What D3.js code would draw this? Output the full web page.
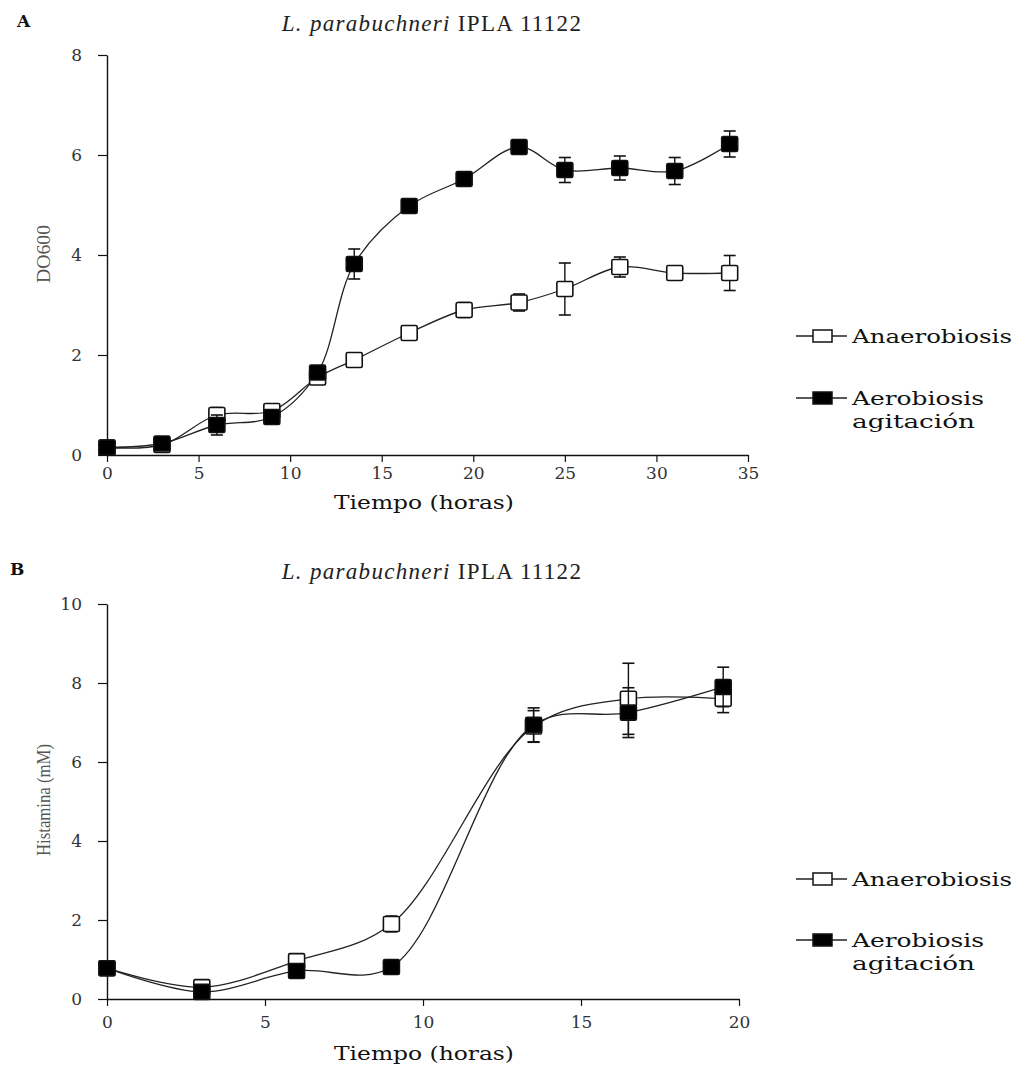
<!DOCTYPE html>
<html><head><meta charset="utf-8">
<script src="https://cdn.jsdelivr.net/npm/d3@7"></script>
<style>body{margin:0;background:#fff}svg{display:block}text{font-family:"Liberation Serif","Times New Roman",serif}</style>
</head><body>
<script>
// Panel A data: optical density
const timeA = [0, 3, 6, 9, 11.5, 13.5, 16.5, 19.5, 22.5, 25, 28, 31, 34];
const anaerA = [0.15, 0.2, 0.8, 0.88, 1.55, 1.9, 2.44, 2.9, 3.05, 3.32, 3.76, 3.64, 3.64];
const anaerAErr = [0.05, 0.05, 0.15, 0.08, 0.05, 0.1, 0.05, 0.15, 0.17, 0.52, 0.2, 0.08, 0.35];
const aerA = [0.15, 0.23, 0.6, 0.76, 1.65, 3.82, 4.98, 5.52, 6.16, 5.7, 5.74, 5.68, 6.22];
const aerAErr = [0.05, 0.05, 0.2, 0.06, 0.08, 0.3, 0.06, 0.05, 0.05, 0.25, 0.24, 0.27, 0.26];
const xTicksA = [0, 5, 10, 15, 20, 25, 30, 35];
const yTicksA = [0, 2, 4, 6, 8];
// Panel B data: histamine
const timeB = [0, 3, 6, 9, 13.5, 16.5, 19.5];
const anaerB = [0.78, 0.3, 0.96, 1.9, 6.9, 7.6, 7.6];
const anaerBErr = [0.05, 0.05, 0.05, 0.2, 0.4, 0.9, 0.35];
const aerB = [0.78, 0.18, 0.71, 0.81, 6.94, 7.25, 7.9];
const aerBErr = [0.05, 0.05, 0.05, 0.05, 0.43, 0.63, 0.5];
const xTicksB = [0, 5, 10, 15, 20];
const yTicksB = [0, 2, 4, 6, 8, 10];
const seriesNames = ["Anaerobiosis", ["Aerobiosis", "agitación"]];

const W = 1016, H = 1066;
const svg = d3.select("body").append("svg").attr("width", W).attr("height", H);
const wideSerif = '"DejaVu Serif","Liberation Serif",serif';

function panel(cfg) {
  const g = svg.append("g");
  const x = d3.scaleLinear().domain(cfg.xDom).range([107, cfg.xR]);
  const y = d3.scaleLinear().domain(cfg.yDom).range([cfg.yB, cfg.yT]);
  const xa = g.append("g").attr("transform", `translate(0,${cfg.yB})`)
    .call(d3.axisBottom(x).tickValues(cfg.xTicks).tickSize(7).tickSizeOuter(0).tickPadding(cfg.xPad));
  const ya = g.append("g").attr("transform", `translate(107,0)`)
    .call(d3.axisLeft(y).tickValues(cfg.yTicks).tickSize(9).tickSizeOuter(0).tickPadding(16));
  [xa, ya].forEach(a => {
    a.attr("font-family", null).attr("font-size", null);
    a.select(".domain").attr("stroke", "#111").attr("stroke-width", 1.4);
    a.selectAll(".tick line").attr("stroke", "#111").attr("stroke-width", 1.2);
    a.selectAll(".tick text").attr("fill", "#333").style("font-size", "17px").style("font-family", wideSerif);
  });
  const line = d3.line().curve(d3.curveCatmullRom.alpha(0.5)).x(d => x(d[0])).y(d => y(d[1]));
  const series = [
    {t: cfg.t, v: cfg.s1, e: cfg.e1, fill: "#fff"},
    {t: cfg.t, v: cfg.s2, e: cfg.e2, fill: "#000"}
  ];
  const order = [0, 1];
  order.forEach(i => {
    const s = series[i];
    g.append("path").datum(s.t.map((t, k) => [t, s.v[k]]))
      .attr("d", line).attr("fill", "none").attr("stroke", "#222").attr("stroke-width", 1.3);
  });
  order.forEach(i => {
    const s = series[i];
    const eb = g.append("g");
    s.t.forEach((t, k) => {
      const cx = x(t), top = y(s.v[k] + s.e[k]), bot = y(s.v[k] - s.e[k]);
      if (bot - top > 14) {
        eb.append("line").attr("x1", cx).attr("x2", cx).attr("y1", top).attr("y2", bot).attr("stroke", "#111").attr("stroke-width", 1.4);
        [top, bot].forEach(yy => eb.append("line").attr("x1", cx - 6).attr("x2", cx + 6).attr("y1", yy).attr("y2", yy).attr("stroke", "#111").attr("stroke-width", 1.6));
      }
    });
    g.append("g").selectAll("rect").data(s.t.map((t, k) => [t, s.v[k]])).join("rect")
      .attr("x", d => x(d[0]) - 8).attr("y", d => y(d[1]) - 7.5).attr("width", 16).attr("height", 15)
      .attr("rx", 1.5)
      .attr("fill", s.fill).attr("stroke", "#111").attr("stroke-width", 1.6);
  });
  // panel letter
  g.append("text").attr("x", cfg.letterX).attr("y", cfg.titleY - 4).text(cfg.letter)
    .style("font-weight", "bold").style("font-size", "17px").style("font-family", wideSerif).attr("fill", "#111");
  // title
  const tt = g.append("text").attr("x", 432).attr("y", cfg.titleY).attr("text-anchor", "middle")
    .style("font-size", "23px").style("letter-spacing", "1.3px").attr("fill", "#222");
  tt.append("tspan").style("font-style", "italic").text("L. parabuchneri");
  tt.append("tspan").text(" IPLA 11122");
  // x label
  g.append("text").attr("x", 424).attr("y", cfg.xLabY).attr("text-anchor", "middle")
    .style("font-size", "18px").style("font-family", wideSerif).attr("fill", "#111")
    .attr("textLength", 180).attr("lengthAdjust", "spacingAndGlyphs").text("Tiempo  (horas)");
  // y label
  g.append("text").attr("transform", `translate(${cfg.yLabX},${cfg.yLabY}) rotate(-90)`)
    .attr("text-anchor", "middle").style("font-size", "19px").attr("fill", "#555")
    .attr("textLength", cfg.yLabLen).attr("lengthAdjust", "spacingAndGlyphs").text(cfg.yLab);
  // legend
  const lg = g.append("g");
  const rows = [
    {y: cfg.legY[0], fill: "#fff", lines: [seriesNames[0]], lens: [160]},
    {y: cfg.legY[1], fill: "#000", lines: seriesNames[1], lens: [132, 123]}
  ];
  rows.forEach(r => {
    lg.append("line").attr("x1", 796).attr("x2", 847).attr("y1", r.y).attr("y2", r.y).attr("stroke", "#222").attr("stroke-width", 1.3);
    lg.append("rect").attr("x", 813).attr("y", r.y - 6).attr("width", 19).attr("height", 12)
      .attr("fill", r.fill).attr("stroke", "#111").attr("stroke-width", 1.5);
    r.lines.forEach((L, j) => lg.append("text").attr("x", 852).attr("y", r.y + 7 + j * 23)
      .style("font-size", "19px").style("font-family", wideSerif).attr("fill", "#111")
      .attr("textLength", r.lens[j]).attr("lengthAdjust", "spacingAndGlyphs").text(L));
  });
}

panel({xDom: [0, 35], xR: 748, yDom: [0, 8], yB: 455, yT: 55, xTicks: xTicksA, yTicks: yTicksA, xPad: 5,
  t: timeA, s1: anaerA, e1: anaerAErr, s2: aerA, e2: aerAErr, letter: "A", letterX: 17, titleY: 31,
  xLabY: 509, yLab: "DO600", yLabX: 50, yLabY: 254, yLabLen: 58, legY: [336, 398]});
panel({xDom: [0, 20], xR: 739, yDom: [0, 10], yB: 999, yT: 604, xTicks: xTicksB, yTicks: yTicksB, xPad: 10,
  t: timeB, s1: anaerB, e1: anaerBErr, s2: aerB, e2: aerBErr, letter: "B", letterX: 10, titleY: 579,
  xLabY: 1060, yLab: "Histamina  (mM)", yLabX: 50, yLabY: 800, yLabLen: 112, legY: [879, 940]});
</script>
</body></html>
